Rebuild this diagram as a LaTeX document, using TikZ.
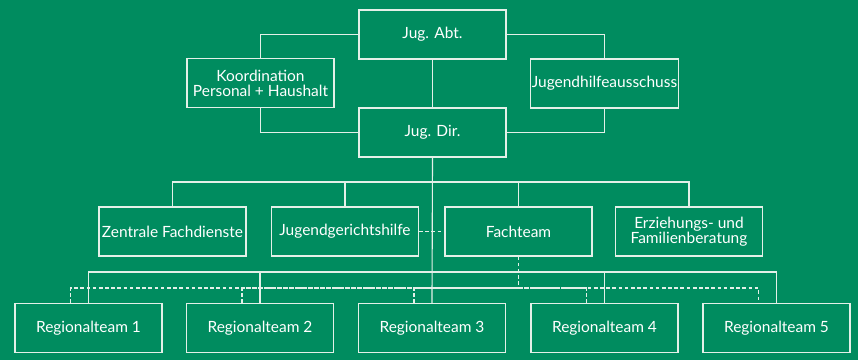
\documentclass[tikz,border=0pt]{standalone}
\usepackage{fontspec}
\setmainfont{Lato}
\usetikzlibrary{calc}
\definecolor{bggreen}{HTML}{008C5F}
\definecolor{linegrey}{HTML}{E4F0E8}

\begin{document}
\begin{tikzpicture}[x=0.025cm, y=-0.025cm,
    unit/.style ={rectangle, draw=linegrey, line width=0.8pt, text=white,
      minimum width=3.675cm, minimum height=1.225cm, inner sep=1pt,
      align=center, font=\fontsize{11}{10.5}\selectfont},
    link/.style ={draw=linegrey, line width=0.8pt},
    dashlink/.style ={link, dash pattern=on 2.6pt off 1.8pt}]
   \fill[bggreen] (0,0) rectangle (858,360);
   \useasboundingbox (0,0) rectangle (858,360);
   % top
   \node[unit] (abt) at (432.5,34.5) {Jug. Abt.};
   \node[unit] (koord) at (260.5,83) {Koordination\\Personal + Haushalt};
   \node[unit] (aus) at (604.5,83.5) {Jugendhilfeausschuss};
   \node[unit] (dir) at (432.5,132.5) {Jug. Dir.};
   % middle row
   \node[unit] (zentral) at (172.5,231.5) {Zentrale Fachdienste};
   \node[unit] (gericht) at (345,231.5) {Jugendgerichtshilfe};
   \node[unit] (fach) at (518.5,231.5) {Fachteam};
   \node[unit] (erz) at (689,231.5) {Erziehungs- und\\Familienberatung};
   % regional teams
   \foreach \x [count=\i] in {88.5,260,432,604.5,776.5}
     \node[unit] (rt\i) at (\x,328) {Regionalteam \i};
   \coordinate (midbus) at (432,182);
   \coordinate (lowbus) at (432,272);
   \coordinate (dashbus) at (518.5,288);
   \foreach \i in {1,...,5}
     \coordinate (d\i) at ($(rt\i.north)+(-18,0)$);
   % solid connectors
   \draw[link] (abt.west) -| (koord.north);
   \draw[link] (abt.east) -| (aus.north);
   \draw[link] (abt) -- (dir);
   \draw[link] (koord.south) |- (dir.west);
   \draw[link] (aus.south) |- (dir.east);
   \draw[link] (dir.south) -- (rt3.north);
   \draw[link] (zentral.north) |- (midbus) -| (erz.north);
   \draw[link] (gericht.north) |- (midbus);
   \draw[link] (fach.north) |- (midbus);
   \draw[link] (rt1.north) |- (lowbus) -| (rt5.north);
   \draw[link] (rt2.north) |- (lowbus);
   \draw[link] (rt4.north) |- (lowbus);
   % dashed connectors
   \draw[dashlink] (gericht.east) -- (fach.west);
   \draw[dashlink] (fach.south) -- (dashbus);
   \draw[dashlink] (d1) |- (dashbus) -| (d5);
   \foreach \i in {2,3,4}
     \draw[dashlink] (d\i) |- (dashbus);
 \end{tikzpicture}
\end{document}
